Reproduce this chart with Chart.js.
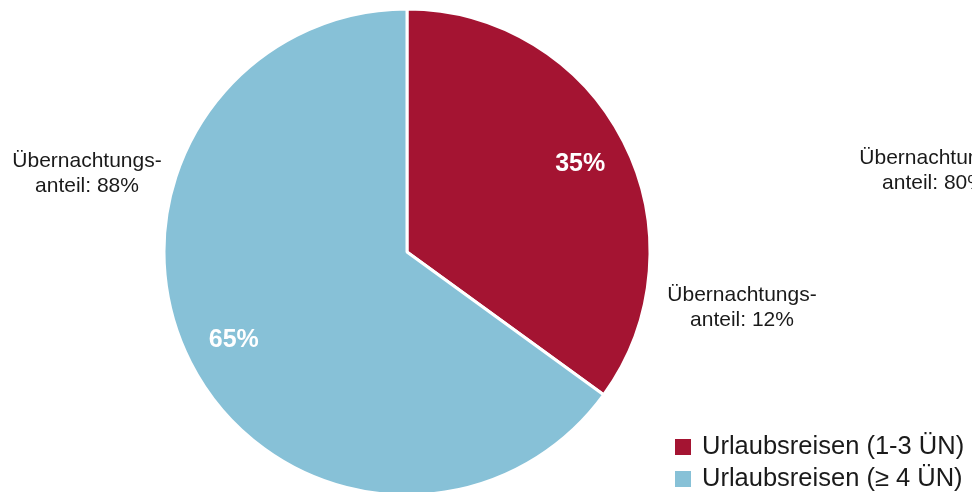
<!DOCTYPE html>
<html>
<head>
<meta charset="utf-8">
<script src="https://cdn.jsdelivr.net/npm/chart.js@4.4.1/dist/chart.umd.min.js"></script>
<style>
  html, body { margin: 0; padding: 0; background: #ffffff; overflow: hidden; }
  #wrap { position: relative; width: 972px; height: 492px; }
</style>
</head>
<body>
<div id="wrap"><canvas id="c" width="972" height="492"></canvas></div>
<script>
// Trip categories and their share of holiday trips (%)
const categories = ['Urlaubsreisen (1-3 ÜN)', 'Urlaubsreisen (≥ 4 ÜN)'];
const tripShare = [35, 65];
const sliceColors = ['#A41432', '#87C1D7'];
// Share of overnight stays per category (%)
const nightShare = [12, 88];
// Overnight share shown for the neighbouring chart
const nightShareNext = [80];

const FONT = '"Liberation Sans", Arial, Helvetica, sans-serif';

const overlay = {
  id: 'overlay',
  afterDraw(chart) {
    const ctx = chart.ctx;
    const meta = chart.getDatasetMeta(0);
    const ds = chart.data.datasets[0];
    ctx.save();

    // value labels inside slices
    ctx.fillStyle = '#ffffff';
    ctx.font = 'bold 25px ' + FONT;
    ctx.textAlign = 'center';
    ctx.textBaseline = 'middle';
    meta.data.forEach((arc, i) => {
      const mid = (arc.startAngle + arc.endAngle) / 2;
      const r = arc.outerRadius * 0.8;
      ctx.fillText(ds.data[i] + '%', arc.x + Math.cos(mid) * r, arc.y + Math.sin(mid) * r);
    });

    // overnight-share notes
    ctx.fillStyle = '#1a1a1a';
    ctx.font = '21px ' + FONT;
    const notes = [
      { v: nightShare[0], x: 742, y: 295 },
      { v: nightShare[1], x: 87, y: 161 },
      { v: nightShareNext[0], x: 934, y: 158 }
    ];
    notes.forEach(n => {
      ctx.fillText('Übernachtungs-', n.x, n.y);
      ctx.fillText('anteil: ' + n.v + '%', n.x, n.y + 25);
    });

    // legend
    ctx.textAlign = 'left';
    ctx.font = '25.5px ' + FONT;
    chart.data.labels.forEach((lab, i) => {
      const y = 447 + i * 32;
      ctx.fillStyle = ds.backgroundColor[i];
      ctx.fillRect(675, y - 8, 16, 16);
      ctx.fillStyle = '#1a1a1a';
      ctx.fillText(lab, 702, y);
    });
    ctx.restore();
  }
};

new Chart(document.getElementById('c'), {
  type: 'pie',
  data: {
    labels: categories,
    datasets: [{
      data: tripShare,
      backgroundColor: sliceColors,
      borderColor: '#ffffff',
      borderWidth: 3,
      hoverOffset: 0,
      radius: 243,
      clip: false
    }]
  },
  options: {
    responsive: false,
    animation: false,
    layout: { padding: { left: 0, right: 158, top: 12, bottom: 0 } },
    plugins: {
      legend: { display: false },
      tooltip: { enabled: false }
    }
  },
  plugins: [overlay]
});
</script>
</body>
</html>
